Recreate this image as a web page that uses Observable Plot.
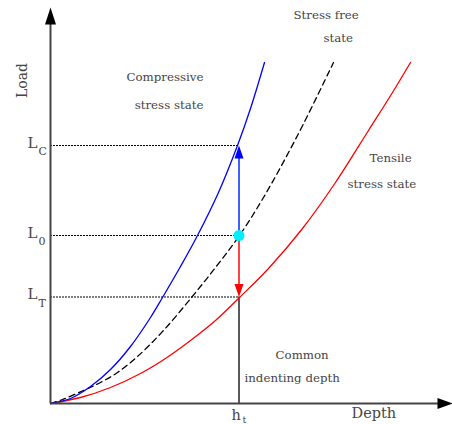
<!DOCTYPE html>
<html>
<head>
<meta charset="utf-8">
<script src="https://cdn.jsdelivr.net/npm/d3@7"></script>
<script src="https://cdn.jsdelivr.net/npm/@observablehq/plot@0.6"></script>
<style>
  html, body { margin: 0; padding: 0; background: #fff; }
  #chart svg { display: block; font-family: "DejaVu Serif", serif; }
</style>
</head>
<body>
<div id="chart"></div>
<script>
// ---- data (depth / load; arbitrary units) ----
const compDepth = [0, 20, 40, 60, 80, 100, 112, 130, 147, 168, 187, 200, 214];
const compLoad  = [0, 5, 17, 34, 57, 86, 106, 137, 168, 211, 258, 295, 341];

const freeDepth = [0, 12, 33, 50, 67, 87, 113, 141, 165, 189, 213, 247, 283];
const freeLoad  = [0, 4, 13, 21, 31, 47, 73, 106, 136, 168, 206, 268, 341];

const tensDepth = [0, 30, 60, 90, 115, 140, 165, 189, 218, 252, 285, 318, 342, 360];
const tensLoad  = [0, 6, 16, 30, 45, 63, 83, 106, 135, 175, 221, 273, 311, 341];

const levelNames = ["C", "0", "T"];
const levelLoads = [258, 168, 106.5];
const hT = 188.5;            // common indenting depth
const axisMax = {depth: 402, load: 395};

const stateLabels = ["Compressive", "stress state", "Stress free", "state",
                     "Tensile", "stress state", "Common", "indenting depth"];
const axisLabels = ["Depth", "Load"];

const comp = d3.zip(compDepth, compLoad).map(([d, l]) => ({d, l}));
const free = d3.zip(freeDepth, freeLoad).map(([d, l]) => ({d, l}));
const tens = d3.zip(tensDepth, tensLoad).map(([d, l]) => ({d, l}));
const levels = d3.zip(levelNames, levelLoads).map(([n, l]) => ({n, l}));

// arrow-head symbols (tip at the anchor point)
function head(len, half, dir) {
  return {draw(ctx) {
    if (dir === "up") { ctx.moveTo(0, 0); ctx.lineTo(-half, len); ctx.lineTo(half, len); }
    else if (dir === "down") { ctx.moveTo(0, 0); ctx.lineTo(-half, -len); ctx.lineTo(half, -len); }
    else { ctx.moveTo(0, 0); ctx.lineTo(-len, -half); ctx.lineTo(-len, half); }
    ctx.closePath();
  }};
}

const txt = "#454545";
function lab(t, x, y, o = {}) {
  return Plot.text([t], {text: d => d, x, y, fill: txt, fontSize: 11.8, ...o});
}

const chart = Plot.plot({
  width: 452, height: 424,
  marginLeft: 50, marginRight: 0, marginTop: 8, marginBottom: 21,
  x: {domain: [0, axisMax.depth], axis: null},
  y: {domain: [0, axisMax.load], axis: null},
  marks: [
    // dotted level lines
    Plot.ruleY(levels, {y: "l", x1: 0, x2: hT, stroke: "#000", strokeWidth: 1, strokeDasharray: "2,1"}),
    // common depth vertical
    Plot.ruleX([hT], {y1: 0, y2: levelLoads[2], stroke: "#222", strokeWidth: 1.5}),
    // curves
    Plot.line(tens, {x: "d", y: "l", stroke: "#ff0000", strokeWidth: 1.3, curve: "catmull-rom"}),
    Plot.line(free, {x: "d", y: "l", stroke: "#000", strokeWidth: 1.3, strokeDasharray: "6,4", curve: "catmull-rom"}),
    Plot.line(comp, {x: "d", y: "l", stroke: "#0000ff", strokeWidth: 1.3, curve: "catmull-rom"}),
    // shift arrows
    Plot.ruleX([hT], {y1: levelLoads[1], y2: levelLoads[0] - 8, stroke: "#3f5fff", strokeWidth: 2}),
    Plot.dot([hT], {x: d => d, y: levelLoads[0], symbol: head(13, 4.5, "up"), fill: "#0000ff"}),
    Plot.ruleX([hT], {y1: levelLoads[1], y2: levelLoads[2] + 8, stroke: "#ff4444", strokeWidth: 2}),
    Plot.dot([hT], {x: d => d, y: levelLoads[2], symbol: head(13, 4.5, "down"), fill: "#ff0000"}),
    Plot.dot([hT], {x: d => d, y: levelLoads[1], r: 5.5, fill: "#00eeff"}),
    // axes
    Plot.ruleX([0], {y1: 0, y2: axisMax.load - 12, stroke: "#444", strokeWidth: 2}),
    Plot.ruleY([0], {x1: 0, x2: axisMax.depth - 12, stroke: "#444", strokeWidth: 2}),
    Plot.dot([0], {x: d => d, y: axisMax.load + 1, symbol: head(17, 5.5, "up"), fill: "#000"}),
    Plot.dot([0], {x: axisMax.depth, y: d => d, symbol: head(15, 5.5, "right"), fill: "#000"}),
    // level labels
    Plot.text(levels, {x: -18, y: "l", text: () => "L", fill: txt, fontSize: 15, textAnchor: "middle", dy: -2.8}),
    Plot.text(levels, {x: -12, y: "l", text: "n", fill: txt, fontSize: 11, textAnchor: "start", dy: 6}),
    // h_t
    lab("h", 181, -11.5, {fontSize: 14.5, textAnchor: "start"}),
    lab("t", 192, -16, {fontSize: 9.5, textAnchor: "start"}),
    // axis titles
    lab(axisLabels[0], 301, -10, {fontSize: 14.5, textAnchor: "start"}),
    lab(axisLabels[1], -28, 323, {fontSize: 14, rotate: -90, textAnchor: "middle"}),
    // state labels
    lab(stateLabels[0], 153, 326, {textAnchor: "end"}),
    lab(stateLabels[1], 153, 298, {textAnchor: "end"}),
    lab(stateLabels[2], 243, 388, {textAnchor: "start"}),
    lab(stateLabels[3], 273, 365, {textAnchor: "start"}),
    lab(stateLabels[4], 319, 245, {textAnchor: "start"}),
    lab(stateLabels[5], 297, 219, {textAnchor: "start"}),
    lab(stateLabels[6], 225, 48, {textAnchor: "start"}),
    lab(stateLabels[7], 194, 25, {textAnchor: "start"})
  ]
});
document.getElementById("chart").appendChild(chart);
</script>
</body>
</html>
